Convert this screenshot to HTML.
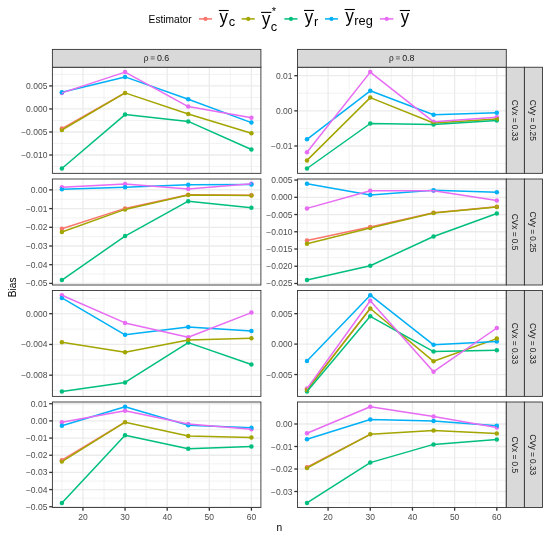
<!DOCTYPE html>
<html><head><meta charset="utf-8"><style>
html,body{margin:0;padding:0;background:#fff;}
svg{display:block;filter:blur(0.3px);}
text{font-family:"Liberation Sans",sans-serif;}
.ax{font-size:8.5px;fill:#4D4D4D;}
.st{font-size:8.3px;fill:#1A1A1A;}
.ti{font-size:10.2px;fill:#000;}
.lg{fill:#000;}
</style></head><body>
<svg width="550" height="536" viewBox="0 0 550 536">
<rect width="550" height="536" fill="#fff"/>
<g>
<line x1="52.4" y1="74.4" x2="260.9" y2="74.4" stroke="#EBEBEB" stroke-width="0.65"/>
<line x1="52.4" y1="97.43" x2="260.9" y2="97.43" stroke="#EBEBEB" stroke-width="0.65"/>
<line x1="52.4" y1="120.47" x2="260.9" y2="120.47" stroke="#EBEBEB" stroke-width="0.65"/>
<line x1="52.4" y1="143.5" x2="260.9" y2="143.5" stroke="#EBEBEB" stroke-width="0.65"/>
<line x1="52.4" y1="166.54" x2="260.9" y2="166.54" stroke="#EBEBEB" stroke-width="0.65"/>
<line x1="61.88" y1="67.25" x2="61.88" y2="173.35" stroke="#EBEBEB" stroke-width="0.65"/>
<line x1="104" y1="67.25" x2="104" y2="173.35" stroke="#EBEBEB" stroke-width="0.65"/>
<line x1="146.12" y1="67.25" x2="146.12" y2="173.35" stroke="#EBEBEB" stroke-width="0.65"/>
<line x1="188.24" y1="67.25" x2="188.24" y2="173.35" stroke="#EBEBEB" stroke-width="0.65"/>
<line x1="230.36" y1="67.25" x2="230.36" y2="173.35" stroke="#EBEBEB" stroke-width="0.65"/>
<line x1="52.4" y1="85.92" x2="260.9" y2="85.92" stroke="#EBEBEB" stroke-width="1.3"/>
<line x1="52.4" y1="108.95" x2="260.9" y2="108.95" stroke="#EBEBEB" stroke-width="1.3"/>
<line x1="52.4" y1="131.99" x2="260.9" y2="131.99" stroke="#EBEBEB" stroke-width="1.3"/>
<line x1="52.4" y1="155.02" x2="260.9" y2="155.02" stroke="#EBEBEB" stroke-width="1.3"/>
<line x1="82.94" y1="67.25" x2="82.94" y2="173.35" stroke="#EBEBEB" stroke-width="1.3"/>
<line x1="125.06" y1="67.25" x2="125.06" y2="173.35" stroke="#EBEBEB" stroke-width="1.3"/>
<line x1="167.18" y1="67.25" x2="167.18" y2="173.35" stroke="#EBEBEB" stroke-width="1.3"/>
<line x1="209.3" y1="67.25" x2="209.3" y2="173.35" stroke="#EBEBEB" stroke-width="1.3"/>
<line x1="251.42" y1="67.25" x2="251.42" y2="173.35" stroke="#EBEBEB" stroke-width="1.3"/>
<circle cx="61.88" cy="92.9" r="2.25" fill="#E76BF3"/>
<circle cx="125.06" cy="72.1" r="2.25" fill="#E76BF3"/>
<circle cx="188.24" cy="106.6" r="2.25" fill="#E76BF3"/>
<circle cx="251.42" cy="117.7" r="2.25" fill="#E76BF3"/>
<circle cx="61.88" cy="92.3" r="2.25" fill="#00B0F6"/>
<circle cx="125.06" cy="76.9" r="2.25" fill="#00B0F6"/>
<circle cx="188.24" cy="99.2" r="2.25" fill="#00B0F6"/>
<circle cx="251.42" cy="122.6" r="2.25" fill="#00B0F6"/>
<circle cx="61.88" cy="168.5" r="2.25" fill="#00BF7D"/>
<circle cx="125.06" cy="114.6" r="2.25" fill="#00BF7D"/>
<circle cx="188.24" cy="121.4" r="2.25" fill="#00BF7D"/>
<circle cx="251.42" cy="149.5" r="2.25" fill="#00BF7D"/>
<circle cx="61.88" cy="128.6" r="2.25" fill="#F8766D"/>
<circle cx="61.88" cy="130" r="2.25" fill="#A3A500"/>
<circle cx="125.06" cy="92.9" r="2.25" fill="#A3A500"/>
<circle cx="188.24" cy="114" r="2.25" fill="#A3A500"/>
<circle cx="251.42" cy="133.3" r="2.25" fill="#A3A500"/>
<line x1="61.88" y1="128.6" x2="125.06" y2="92.9" stroke="#F8766D" stroke-width="1.5" stroke-linecap="round"/>
<polyline points="61.88,130 125.06,92.9 188.24,114 251.42,133.3" fill="none" stroke="#A3A500" stroke-width="1.5" stroke-linejoin="round"/>
<polyline points="61.88,168.5 125.06,114.6 188.24,121.4 251.42,149.5" fill="none" stroke="#00BF7D" stroke-width="1.5" stroke-linejoin="round"/>
<polyline points="61.88,92.3 125.06,76.9 188.24,99.2 251.42,122.6" fill="none" stroke="#00B0F6" stroke-width="1.5" stroke-linejoin="round"/>
<polyline points="61.88,92.9 125.06,72.1 188.24,106.6 251.42,117.7" fill="none" stroke="#E76BF3" stroke-width="1.5" stroke-linejoin="round"/>
<rect x="52.4" y="67.25" width="208.5" height="106.1" fill="none" stroke="#333333" stroke-width="0.9"/>
<line x1="49.2" y1="85.92" x2="52.4" y2="85.92" stroke="#333333" stroke-width="1.3"/>
<text x="47.4" y="88.92" text-anchor="end" class="ax">0.005</text>
<line x1="49.2" y1="108.95" x2="52.4" y2="108.95" stroke="#333333" stroke-width="1.3"/>
<text x="47.4" y="111.95" text-anchor="end" class="ax">0.000</text>
<line x1="49.2" y1="131.99" x2="52.4" y2="131.99" stroke="#333333" stroke-width="1.3"/>
<text x="47.4" y="134.99" text-anchor="end" class="ax">−0.005</text>
<line x1="49.2" y1="155.02" x2="52.4" y2="155.02" stroke="#333333" stroke-width="1.3"/>
<text x="47.4" y="158.02" text-anchor="end" class="ax">−0.010</text>
</g>
<g>
<line x1="297.5" y1="93.27" x2="506.3" y2="93.27" stroke="#EBEBEB" stroke-width="0.65"/>
<line x1="297.5" y1="128.42" x2="506.3" y2="128.42" stroke="#EBEBEB" stroke-width="0.65"/>
<line x1="297.5" y1="163.57" x2="506.3" y2="163.57" stroke="#EBEBEB" stroke-width="0.65"/>
<line x1="306.99" y1="67.25" x2="306.99" y2="173.35" stroke="#EBEBEB" stroke-width="0.65"/>
<line x1="349.17" y1="67.25" x2="349.17" y2="173.35" stroke="#EBEBEB" stroke-width="0.65"/>
<line x1="391.35" y1="67.25" x2="391.35" y2="173.35" stroke="#EBEBEB" stroke-width="0.65"/>
<line x1="433.54" y1="67.25" x2="433.54" y2="173.35" stroke="#EBEBEB" stroke-width="0.65"/>
<line x1="475.72" y1="67.25" x2="475.72" y2="173.35" stroke="#EBEBEB" stroke-width="0.65"/>
<line x1="297.5" y1="75.7" x2="506.3" y2="75.7" stroke="#EBEBEB" stroke-width="1.3"/>
<line x1="297.5" y1="110.85" x2="506.3" y2="110.85" stroke="#EBEBEB" stroke-width="1.3"/>
<line x1="297.5" y1="146" x2="506.3" y2="146" stroke="#EBEBEB" stroke-width="1.3"/>
<line x1="328.08" y1="67.25" x2="328.08" y2="173.35" stroke="#EBEBEB" stroke-width="1.3"/>
<line x1="370.26" y1="67.25" x2="370.26" y2="173.35" stroke="#EBEBEB" stroke-width="1.3"/>
<line x1="412.45" y1="67.25" x2="412.45" y2="173.35" stroke="#EBEBEB" stroke-width="1.3"/>
<line x1="454.63" y1="67.25" x2="454.63" y2="173.35" stroke="#EBEBEB" stroke-width="1.3"/>
<line x1="496.81" y1="67.25" x2="496.81" y2="173.35" stroke="#EBEBEB" stroke-width="1.3"/>
<circle cx="306.99" cy="152.2" r="2.25" fill="#E76BF3"/>
<circle cx="370.26" cy="72.1" r="2.25" fill="#E76BF3"/>
<circle cx="433.54" cy="121.8" r="2.25" fill="#E76BF3"/>
<circle cx="496.81" cy="117.3" r="2.25" fill="#E76BF3"/>
<circle cx="306.99" cy="139.3" r="2.25" fill="#00B0F6"/>
<circle cx="370.26" cy="90.8" r="2.25" fill="#00B0F6"/>
<circle cx="433.54" cy="114.8" r="2.25" fill="#00B0F6"/>
<circle cx="496.81" cy="112.8" r="2.25" fill="#00B0F6"/>
<circle cx="306.99" cy="168.5" r="2.25" fill="#00BF7D"/>
<circle cx="370.26" cy="123.5" r="2.25" fill="#00BF7D"/>
<circle cx="433.54" cy="124.5" r="2.25" fill="#00BF7D"/>
<circle cx="496.81" cy="120.4" r="2.25" fill="#00BF7D"/>
<circle cx="306.99" cy="160.4" r="2.25" fill="#A3A500"/>
<circle cx="370.26" cy="97.6" r="2.25" fill="#A3A500"/>
<circle cx="433.54" cy="123" r="2.25" fill="#A3A500"/>
<circle cx="496.81" cy="119" r="2.25" fill="#A3A500"/>
<polyline points="306.99,160.4 370.26,97.6 433.54,123 496.81,119" fill="none" stroke="#A3A500" stroke-width="1.5" stroke-linejoin="round"/>
<polyline points="306.99,168.5 370.26,123.5 433.54,124.5 496.81,120.4" fill="none" stroke="#00BF7D" stroke-width="1.5" stroke-linejoin="round"/>
<polyline points="306.99,139.3 370.26,90.8 433.54,114.8 496.81,112.8" fill="none" stroke="#00B0F6" stroke-width="1.5" stroke-linejoin="round"/>
<polyline points="306.99,152.2 370.26,72.1 433.54,121.8 496.81,117.3" fill="none" stroke="#E76BF3" stroke-width="1.5" stroke-linejoin="round"/>
<rect x="297.5" y="67.25" width="208.8" height="106.1" fill="none" stroke="#333333" stroke-width="0.9"/>
<line x1="294.3" y1="75.7" x2="297.5" y2="75.7" stroke="#333333" stroke-width="1.3"/>
<text x="292.5" y="78.7" text-anchor="end" class="ax">0.01</text>
<line x1="294.3" y1="110.85" x2="297.5" y2="110.85" stroke="#333333" stroke-width="1.3"/>
<text x="292.5" y="113.85" text-anchor="end" class="ax">0.00</text>
<line x1="294.3" y1="146" x2="297.5" y2="146" stroke="#333333" stroke-width="1.3"/>
<text x="292.5" y="149" text-anchor="end" class="ax">−0.01</text>
</g>
<g>
<line x1="52.4" y1="199.25" x2="260.9" y2="199.25" stroke="#EBEBEB" stroke-width="0.65"/>
<line x1="52.4" y1="217.95" x2="260.9" y2="217.95" stroke="#EBEBEB" stroke-width="0.65"/>
<line x1="52.4" y1="236.65" x2="260.9" y2="236.65" stroke="#EBEBEB" stroke-width="0.65"/>
<line x1="52.4" y1="255.35" x2="260.9" y2="255.35" stroke="#EBEBEB" stroke-width="0.65"/>
<line x1="52.4" y1="274.05" x2="260.9" y2="274.05" stroke="#EBEBEB" stroke-width="0.65"/>
<line x1="61.88" y1="179" x2="61.88" y2="285" stroke="#EBEBEB" stroke-width="0.65"/>
<line x1="104" y1="179" x2="104" y2="285" stroke="#EBEBEB" stroke-width="0.65"/>
<line x1="146.12" y1="179" x2="146.12" y2="285" stroke="#EBEBEB" stroke-width="0.65"/>
<line x1="188.24" y1="179" x2="188.24" y2="285" stroke="#EBEBEB" stroke-width="0.65"/>
<line x1="230.36" y1="179" x2="230.36" y2="285" stroke="#EBEBEB" stroke-width="0.65"/>
<line x1="52.4" y1="189.9" x2="260.9" y2="189.9" stroke="#EBEBEB" stroke-width="1.3"/>
<line x1="52.4" y1="208.6" x2="260.9" y2="208.6" stroke="#EBEBEB" stroke-width="1.3"/>
<line x1="52.4" y1="227.3" x2="260.9" y2="227.3" stroke="#EBEBEB" stroke-width="1.3"/>
<line x1="52.4" y1="246" x2="260.9" y2="246" stroke="#EBEBEB" stroke-width="1.3"/>
<line x1="52.4" y1="264.7" x2="260.9" y2="264.7" stroke="#EBEBEB" stroke-width="1.3"/>
<line x1="52.4" y1="283.4" x2="260.9" y2="283.4" stroke="#EBEBEB" stroke-width="1.3"/>
<line x1="82.94" y1="179" x2="82.94" y2="285" stroke="#EBEBEB" stroke-width="1.3"/>
<line x1="125.06" y1="179" x2="125.06" y2="285" stroke="#EBEBEB" stroke-width="1.3"/>
<line x1="167.18" y1="179" x2="167.18" y2="285" stroke="#EBEBEB" stroke-width="1.3"/>
<line x1="209.3" y1="179" x2="209.3" y2="285" stroke="#EBEBEB" stroke-width="1.3"/>
<line x1="251.42" y1="179" x2="251.42" y2="285" stroke="#EBEBEB" stroke-width="1.3"/>
<circle cx="61.88" cy="187.3" r="2.25" fill="#E76BF3"/>
<circle cx="125.06" cy="184.1" r="2.25" fill="#E76BF3"/>
<circle cx="188.24" cy="188.9" r="2.25" fill="#E76BF3"/>
<circle cx="251.42" cy="183.8" r="2.25" fill="#E76BF3"/>
<circle cx="61.88" cy="189.3" r="2.25" fill="#00B0F6"/>
<circle cx="125.06" cy="187.3" r="2.25" fill="#00B0F6"/>
<circle cx="188.24" cy="184.8" r="2.25" fill="#00B0F6"/>
<circle cx="251.42" cy="184.4" r="2.25" fill="#00B0F6"/>
<circle cx="61.88" cy="280.1" r="2.25" fill="#00BF7D"/>
<circle cx="125.06" cy="236.1" r="2.25" fill="#00BF7D"/>
<circle cx="188.24" cy="201.2" r="2.25" fill="#00BF7D"/>
<circle cx="251.42" cy="207.8" r="2.25" fill="#00BF7D"/>
<circle cx="61.88" cy="228.7" r="2.25" fill="#F8766D"/>
<circle cx="125.06" cy="208.4" r="2.25" fill="#F8766D"/>
<circle cx="188.24" cy="194.8" r="2.25" fill="#F8766D"/>
<circle cx="251.42" cy="195.2" r="2.25" fill="#F8766D"/>
<circle cx="61.88" cy="232" r="2.25" fill="#A3A500"/>
<circle cx="125.06" cy="209.4" r="2.25" fill="#A3A500"/>
<circle cx="188.24" cy="195.1" r="2.25" fill="#A3A500"/>
<circle cx="251.42" cy="195.5" r="2.25" fill="#A3A500"/>
<line x1="61.88" y1="228.7" x2="125.06" y2="208.4" stroke="#F8766D" stroke-width="1.5" stroke-linecap="round"/>
<line x1="125.06" y1="208.4" x2="188.24" y2="194.8" stroke="#F8766D" stroke-width="1.5" stroke-linecap="round"/>
<line x1="188.24" y1="194.8" x2="251.42" y2="195.2" stroke="#F8766D" stroke-width="1.5" stroke-linecap="round"/>
<polyline points="61.88,232 125.06,209.4 188.24,195.1 251.42,195.5" fill="none" stroke="#A3A500" stroke-width="1.5" stroke-linejoin="round"/>
<polyline points="61.88,280.1 125.06,236.1 188.24,201.2 251.42,207.8" fill="none" stroke="#00BF7D" stroke-width="1.5" stroke-linejoin="round"/>
<polyline points="61.88,189.3 125.06,187.3 188.24,184.8 251.42,184.4" fill="none" stroke="#00B0F6" stroke-width="1.5" stroke-linejoin="round"/>
<polyline points="61.88,187.3 125.06,184.1 188.24,188.9 251.42,183.8" fill="none" stroke="#E76BF3" stroke-width="1.5" stroke-linejoin="round"/>
<rect x="52.4" y="179" width="208.5" height="106" fill="none" stroke="#333333" stroke-width="0.9"/>
<line x1="49.2" y1="189.9" x2="52.4" y2="189.9" stroke="#333333" stroke-width="1.3"/>
<text x="47.4" y="192.9" text-anchor="end" class="ax">0.00</text>
<line x1="49.2" y1="208.6" x2="52.4" y2="208.6" stroke="#333333" stroke-width="1.3"/>
<text x="47.4" y="211.6" text-anchor="end" class="ax">−0.01</text>
<line x1="49.2" y1="227.3" x2="52.4" y2="227.3" stroke="#333333" stroke-width="1.3"/>
<text x="47.4" y="230.3" text-anchor="end" class="ax">−0.02</text>
<line x1="49.2" y1="246" x2="52.4" y2="246" stroke="#333333" stroke-width="1.3"/>
<text x="47.4" y="249" text-anchor="end" class="ax">−0.03</text>
<line x1="49.2" y1="264.7" x2="52.4" y2="264.7" stroke="#333333" stroke-width="1.3"/>
<text x="47.4" y="267.7" text-anchor="end" class="ax">−0.04</text>
<line x1="49.2" y1="283.4" x2="52.4" y2="283.4" stroke="#333333" stroke-width="1.3"/>
<text x="47.4" y="286.4" text-anchor="end" class="ax">−0.05</text>
</g>
<g>
<line x1="297.5" y1="188.68" x2="506.3" y2="188.68" stroke="#EBEBEB" stroke-width="0.65"/>
<line x1="297.5" y1="205.92" x2="506.3" y2="205.92" stroke="#EBEBEB" stroke-width="0.65"/>
<line x1="297.5" y1="223.15" x2="506.3" y2="223.15" stroke="#EBEBEB" stroke-width="0.65"/>
<line x1="297.5" y1="240.39" x2="506.3" y2="240.39" stroke="#EBEBEB" stroke-width="0.65"/>
<line x1="297.5" y1="257.62" x2="506.3" y2="257.62" stroke="#EBEBEB" stroke-width="0.65"/>
<line x1="297.5" y1="274.86" x2="506.3" y2="274.86" stroke="#EBEBEB" stroke-width="0.65"/>
<line x1="306.99" y1="179" x2="306.99" y2="285" stroke="#EBEBEB" stroke-width="0.65"/>
<line x1="349.17" y1="179" x2="349.17" y2="285" stroke="#EBEBEB" stroke-width="0.65"/>
<line x1="391.35" y1="179" x2="391.35" y2="285" stroke="#EBEBEB" stroke-width="0.65"/>
<line x1="433.54" y1="179" x2="433.54" y2="285" stroke="#EBEBEB" stroke-width="0.65"/>
<line x1="475.72" y1="179" x2="475.72" y2="285" stroke="#EBEBEB" stroke-width="0.65"/>
<line x1="297.5" y1="180.06" x2="506.3" y2="180.06" stroke="#EBEBEB" stroke-width="1.3"/>
<line x1="297.5" y1="197.3" x2="506.3" y2="197.3" stroke="#EBEBEB" stroke-width="1.3"/>
<line x1="297.5" y1="214.54" x2="506.3" y2="214.54" stroke="#EBEBEB" stroke-width="1.3"/>
<line x1="297.5" y1="231.77" x2="506.3" y2="231.77" stroke="#EBEBEB" stroke-width="1.3"/>
<line x1="297.5" y1="249" x2="506.3" y2="249" stroke="#EBEBEB" stroke-width="1.3"/>
<line x1="297.5" y1="266.24" x2="506.3" y2="266.24" stroke="#EBEBEB" stroke-width="1.3"/>
<line x1="297.5" y1="283.48" x2="506.3" y2="283.48" stroke="#EBEBEB" stroke-width="1.3"/>
<line x1="328.08" y1="179" x2="328.08" y2="285" stroke="#EBEBEB" stroke-width="1.3"/>
<line x1="370.26" y1="179" x2="370.26" y2="285" stroke="#EBEBEB" stroke-width="1.3"/>
<line x1="412.45" y1="179" x2="412.45" y2="285" stroke="#EBEBEB" stroke-width="1.3"/>
<line x1="454.63" y1="179" x2="454.63" y2="285" stroke="#EBEBEB" stroke-width="1.3"/>
<line x1="496.81" y1="179" x2="496.81" y2="285" stroke="#EBEBEB" stroke-width="1.3"/>
<circle cx="306.99" cy="208.4" r="2.25" fill="#E76BF3"/>
<circle cx="370.26" cy="190.7" r="2.25" fill="#E76BF3"/>
<circle cx="433.54" cy="190.7" r="2.25" fill="#E76BF3"/>
<circle cx="496.81" cy="200.4" r="2.25" fill="#E76BF3"/>
<circle cx="306.99" cy="183.8" r="2.25" fill="#00B0F6"/>
<circle cx="370.26" cy="195.1" r="2.25" fill="#00B0F6"/>
<circle cx="433.54" cy="190.3" r="2.25" fill="#00B0F6"/>
<circle cx="496.81" cy="192.2" r="2.25" fill="#00B0F6"/>
<circle cx="306.99" cy="280.1" r="2.25" fill="#00BF7D"/>
<circle cx="370.26" cy="265.7" r="2.25" fill="#00BF7D"/>
<circle cx="433.54" cy="236.5" r="2.25" fill="#00BF7D"/>
<circle cx="496.81" cy="213.5" r="2.25" fill="#00BF7D"/>
<circle cx="306.99" cy="240.6" r="2.25" fill="#F8766D"/>
<circle cx="370.26" cy="226.9" r="2.25" fill="#F8766D"/>
<circle cx="433.54" cy="212.8" r="2.25" fill="#F8766D"/>
<circle cx="496.81" cy="206.7" r="2.25" fill="#F8766D"/>
<circle cx="306.99" cy="243.7" r="2.25" fill="#A3A500"/>
<circle cx="370.26" cy="227.9" r="2.25" fill="#A3A500"/>
<circle cx="433.54" cy="213.1" r="2.25" fill="#A3A500"/>
<circle cx="496.81" cy="207" r="2.25" fill="#A3A500"/>
<line x1="306.99" y1="240.6" x2="370.26" y2="226.9" stroke="#F8766D" stroke-width="1.5" stroke-linecap="round"/>
<line x1="370.26" y1="226.9" x2="433.54" y2="212.8" stroke="#F8766D" stroke-width="1.5" stroke-linecap="round"/>
<line x1="433.54" y1="212.8" x2="496.81" y2="206.7" stroke="#F8766D" stroke-width="1.5" stroke-linecap="round"/>
<polyline points="306.99,243.7 370.26,227.9 433.54,213.1 496.81,207" fill="none" stroke="#A3A500" stroke-width="1.5" stroke-linejoin="round"/>
<polyline points="306.99,280.1 370.26,265.7 433.54,236.5 496.81,213.5" fill="none" stroke="#00BF7D" stroke-width="1.5" stroke-linejoin="round"/>
<polyline points="306.99,183.8 370.26,195.1 433.54,190.3 496.81,192.2" fill="none" stroke="#00B0F6" stroke-width="1.5" stroke-linejoin="round"/>
<polyline points="306.99,208.4 370.26,190.7 433.54,190.7 496.81,200.4" fill="none" stroke="#E76BF3" stroke-width="1.5" stroke-linejoin="round"/>
<rect x="297.5" y="179" width="208.8" height="106" fill="none" stroke="#333333" stroke-width="0.9"/>
<line x1="294.3" y1="180.06" x2="297.5" y2="180.06" stroke="#333333" stroke-width="1.3"/>
<text x="292.5" y="183.06" text-anchor="end" class="ax">0.005</text>
<line x1="294.3" y1="197.3" x2="297.5" y2="197.3" stroke="#333333" stroke-width="1.3"/>
<text x="292.5" y="200.3" text-anchor="end" class="ax">0.000</text>
<line x1="294.3" y1="214.54" x2="297.5" y2="214.54" stroke="#333333" stroke-width="1.3"/>
<text x="292.5" y="217.54" text-anchor="end" class="ax">−0.005</text>
<line x1="294.3" y1="231.77" x2="297.5" y2="231.77" stroke="#333333" stroke-width="1.3"/>
<text x="292.5" y="234.77" text-anchor="end" class="ax">−0.010</text>
<line x1="294.3" y1="249" x2="297.5" y2="249" stroke="#333333" stroke-width="1.3"/>
<text x="292.5" y="252" text-anchor="end" class="ax">−0.015</text>
<line x1="294.3" y1="266.24" x2="297.5" y2="266.24" stroke="#333333" stroke-width="1.3"/>
<text x="292.5" y="269.24" text-anchor="end" class="ax">−0.020</text>
<line x1="294.3" y1="283.48" x2="297.5" y2="283.48" stroke="#333333" stroke-width="1.3"/>
<text x="292.5" y="286.48" text-anchor="end" class="ax">−0.025</text>
</g>
<g>
<line x1="52.4" y1="298.32" x2="260.9" y2="298.32" stroke="#EBEBEB" stroke-width="0.65"/>
<line x1="52.4" y1="329.07" x2="260.9" y2="329.07" stroke="#EBEBEB" stroke-width="0.65"/>
<line x1="52.4" y1="359.82" x2="260.9" y2="359.82" stroke="#EBEBEB" stroke-width="0.65"/>
<line x1="52.4" y1="390.57" x2="260.9" y2="390.57" stroke="#EBEBEB" stroke-width="0.65"/>
<line x1="61.88" y1="290.5" x2="61.88" y2="396.4" stroke="#EBEBEB" stroke-width="0.65"/>
<line x1="104" y1="290.5" x2="104" y2="396.4" stroke="#EBEBEB" stroke-width="0.65"/>
<line x1="146.12" y1="290.5" x2="146.12" y2="396.4" stroke="#EBEBEB" stroke-width="0.65"/>
<line x1="188.24" y1="290.5" x2="188.24" y2="396.4" stroke="#EBEBEB" stroke-width="0.65"/>
<line x1="230.36" y1="290.5" x2="230.36" y2="396.4" stroke="#EBEBEB" stroke-width="0.65"/>
<line x1="52.4" y1="313.7" x2="260.9" y2="313.7" stroke="#EBEBEB" stroke-width="1.3"/>
<line x1="52.4" y1="344.45" x2="260.9" y2="344.45" stroke="#EBEBEB" stroke-width="1.3"/>
<line x1="52.4" y1="375.2" x2="260.9" y2="375.2" stroke="#EBEBEB" stroke-width="1.3"/>
<line x1="82.94" y1="290.5" x2="82.94" y2="396.4" stroke="#EBEBEB" stroke-width="1.3"/>
<line x1="125.06" y1="290.5" x2="125.06" y2="396.4" stroke="#EBEBEB" stroke-width="1.3"/>
<line x1="167.18" y1="290.5" x2="167.18" y2="396.4" stroke="#EBEBEB" stroke-width="1.3"/>
<line x1="209.3" y1="290.5" x2="209.3" y2="396.4" stroke="#EBEBEB" stroke-width="1.3"/>
<line x1="251.42" y1="290.5" x2="251.42" y2="396.4" stroke="#EBEBEB" stroke-width="1.3"/>
<circle cx="61.88" cy="295.2" r="2.25" fill="#E76BF3"/>
<circle cx="125.06" cy="322.9" r="2.25" fill="#E76BF3"/>
<circle cx="188.24" cy="337.3" r="2.25" fill="#E76BF3"/>
<circle cx="251.42" cy="312.6" r="2.25" fill="#E76BF3"/>
<circle cx="61.88" cy="297.9" r="2.25" fill="#00B0F6"/>
<circle cx="125.06" cy="334.8" r="2.25" fill="#00B0F6"/>
<circle cx="188.24" cy="327" r="2.25" fill="#00B0F6"/>
<circle cx="251.42" cy="331.1" r="2.25" fill="#00B0F6"/>
<circle cx="61.88" cy="391.5" r="2.25" fill="#00BF7D"/>
<circle cx="125.06" cy="382.4" r="2.25" fill="#00BF7D"/>
<circle cx="188.24" cy="342.6" r="2.25" fill="#00BF7D"/>
<circle cx="251.42" cy="364.5" r="2.25" fill="#00BF7D"/>
<circle cx="61.88" cy="342.2" r="2.25" fill="#A3A500"/>
<circle cx="125.06" cy="352.2" r="2.25" fill="#A3A500"/>
<circle cx="188.24" cy="340.1" r="2.25" fill="#A3A500"/>
<circle cx="251.42" cy="338.3" r="2.25" fill="#A3A500"/>
<polyline points="61.88,342.2 125.06,352.2 188.24,340.1 251.42,338.3" fill="none" stroke="#A3A500" stroke-width="1.5" stroke-linejoin="round"/>
<polyline points="61.88,391.5 125.06,382.4 188.24,342.6 251.42,364.5" fill="none" stroke="#00BF7D" stroke-width="1.5" stroke-linejoin="round"/>
<polyline points="61.88,297.9 125.06,334.8 188.24,327 251.42,331.1" fill="none" stroke="#00B0F6" stroke-width="1.5" stroke-linejoin="round"/>
<polyline points="61.88,295.2 125.06,322.9 188.24,337.3 251.42,312.6" fill="none" stroke="#E76BF3" stroke-width="1.5" stroke-linejoin="round"/>
<rect x="52.4" y="290.5" width="208.5" height="105.9" fill="none" stroke="#333333" stroke-width="0.9"/>
<line x1="49.2" y1="313.7" x2="52.4" y2="313.7" stroke="#333333" stroke-width="1.3"/>
<text x="47.4" y="316.7" text-anchor="end" class="ax">0.000</text>
<line x1="49.2" y1="344.45" x2="52.4" y2="344.45" stroke="#333333" stroke-width="1.3"/>
<text x="47.4" y="347.45" text-anchor="end" class="ax">−0.004</text>
<line x1="49.2" y1="375.2" x2="52.4" y2="375.2" stroke="#333333" stroke-width="1.3"/>
<text x="47.4" y="378.2" text-anchor="end" class="ax">−0.008</text>
</g>
<g>
<line x1="297.5" y1="298.43" x2="506.3" y2="298.43" stroke="#EBEBEB" stroke-width="0.65"/>
<line x1="297.5" y1="328.88" x2="506.3" y2="328.88" stroke="#EBEBEB" stroke-width="0.65"/>
<line x1="297.5" y1="359.33" x2="506.3" y2="359.33" stroke="#EBEBEB" stroke-width="0.65"/>
<line x1="297.5" y1="389.78" x2="506.3" y2="389.78" stroke="#EBEBEB" stroke-width="0.65"/>
<line x1="306.99" y1="290.5" x2="306.99" y2="396.4" stroke="#EBEBEB" stroke-width="0.65"/>
<line x1="349.17" y1="290.5" x2="349.17" y2="396.4" stroke="#EBEBEB" stroke-width="0.65"/>
<line x1="391.35" y1="290.5" x2="391.35" y2="396.4" stroke="#EBEBEB" stroke-width="0.65"/>
<line x1="433.54" y1="290.5" x2="433.54" y2="396.4" stroke="#EBEBEB" stroke-width="0.65"/>
<line x1="475.72" y1="290.5" x2="475.72" y2="396.4" stroke="#EBEBEB" stroke-width="0.65"/>
<line x1="297.5" y1="313.65" x2="506.3" y2="313.65" stroke="#EBEBEB" stroke-width="1.3"/>
<line x1="297.5" y1="344.1" x2="506.3" y2="344.1" stroke="#EBEBEB" stroke-width="1.3"/>
<line x1="297.5" y1="374.55" x2="506.3" y2="374.55" stroke="#EBEBEB" stroke-width="1.3"/>
<line x1="328.08" y1="290.5" x2="328.08" y2="396.4" stroke="#EBEBEB" stroke-width="1.3"/>
<line x1="370.26" y1="290.5" x2="370.26" y2="396.4" stroke="#EBEBEB" stroke-width="1.3"/>
<line x1="412.45" y1="290.5" x2="412.45" y2="396.4" stroke="#EBEBEB" stroke-width="1.3"/>
<line x1="454.63" y1="290.5" x2="454.63" y2="396.4" stroke="#EBEBEB" stroke-width="1.3"/>
<line x1="496.81" y1="290.5" x2="496.81" y2="396.4" stroke="#EBEBEB" stroke-width="1.3"/>
<circle cx="306.99" cy="388.6" r="2.25" fill="#E76BF3"/>
<circle cx="370.26" cy="300.7" r="2.25" fill="#E76BF3"/>
<circle cx="433.54" cy="371.7" r="2.25" fill="#E76BF3"/>
<circle cx="496.81" cy="328" r="2.25" fill="#E76BF3"/>
<circle cx="306.99" cy="360.9" r="2.25" fill="#00B0F6"/>
<circle cx="370.26" cy="295.2" r="2.25" fill="#00B0F6"/>
<circle cx="433.54" cy="344.8" r="2.25" fill="#00B0F6"/>
<circle cx="496.81" cy="341.5" r="2.25" fill="#00B0F6"/>
<circle cx="306.99" cy="391.5" r="2.25" fill="#00BF7D"/>
<circle cx="370.26" cy="316.3" r="2.25" fill="#00BF7D"/>
<circle cx="433.54" cy="351.6" r="2.25" fill="#00BF7D"/>
<circle cx="496.81" cy="350.2" r="2.25" fill="#00BF7D"/>
<circle cx="306.99" cy="389.6" r="2.25" fill="#F8766D"/>
<circle cx="306.99" cy="390" r="2.25" fill="#A3A500"/>
<circle cx="370.26" cy="308.5" r="2.25" fill="#A3A500"/>
<circle cx="433.54" cy="361.3" r="2.25" fill="#A3A500"/>
<circle cx="496.81" cy="338.6" r="2.25" fill="#A3A500"/>
<line x1="306.99" y1="389.6" x2="370.26" y2="308.5" stroke="#F8766D" stroke-width="1.5" stroke-linecap="round"/>
<polyline points="306.99,390 370.26,308.5 433.54,361.3 496.81,338.6" fill="none" stroke="#A3A500" stroke-width="1.5" stroke-linejoin="round"/>
<polyline points="306.99,391.5 370.26,316.3 433.54,351.6 496.81,350.2" fill="none" stroke="#00BF7D" stroke-width="1.5" stroke-linejoin="round"/>
<polyline points="306.99,360.9 370.26,295.2 433.54,344.8 496.81,341.5" fill="none" stroke="#00B0F6" stroke-width="1.5" stroke-linejoin="round"/>
<polyline points="306.99,388.6 370.26,300.7 433.54,371.7 496.81,328" fill="none" stroke="#E76BF3" stroke-width="1.5" stroke-linejoin="round"/>
<rect x="297.5" y="290.5" width="208.8" height="105.9" fill="none" stroke="#333333" stroke-width="0.9"/>
<line x1="294.3" y1="313.65" x2="297.5" y2="313.65" stroke="#333333" stroke-width="1.3"/>
<text x="292.5" y="316.65" text-anchor="end" class="ax">0.005</text>
<line x1="294.3" y1="344.1" x2="297.5" y2="344.1" stroke="#333333" stroke-width="1.3"/>
<text x="292.5" y="347.1" text-anchor="end" class="ax">0.000</text>
<line x1="294.3" y1="374.55" x2="297.5" y2="374.55" stroke="#333333" stroke-width="1.3"/>
<text x="292.5" y="377.55" text-anchor="end" class="ax">−0.005</text>
</g>
<g>
<line x1="52.4" y1="412.31" x2="260.9" y2="412.31" stroke="#EBEBEB" stroke-width="0.65"/>
<line x1="52.4" y1="429.48" x2="260.9" y2="429.48" stroke="#EBEBEB" stroke-width="0.65"/>
<line x1="52.4" y1="446.65" x2="260.9" y2="446.65" stroke="#EBEBEB" stroke-width="0.65"/>
<line x1="52.4" y1="463.82" x2="260.9" y2="463.82" stroke="#EBEBEB" stroke-width="0.65"/>
<line x1="52.4" y1="481" x2="260.9" y2="481" stroke="#EBEBEB" stroke-width="0.65"/>
<line x1="52.4" y1="498.16" x2="260.9" y2="498.16" stroke="#EBEBEB" stroke-width="0.65"/>
<line x1="61.88" y1="402" x2="61.88" y2="507.5" stroke="#EBEBEB" stroke-width="0.65"/>
<line x1="104" y1="402" x2="104" y2="507.5" stroke="#EBEBEB" stroke-width="0.65"/>
<line x1="146.12" y1="402" x2="146.12" y2="507.5" stroke="#EBEBEB" stroke-width="0.65"/>
<line x1="188.24" y1="402" x2="188.24" y2="507.5" stroke="#EBEBEB" stroke-width="0.65"/>
<line x1="230.36" y1="402" x2="230.36" y2="507.5" stroke="#EBEBEB" stroke-width="0.65"/>
<line x1="52.4" y1="403.73" x2="260.9" y2="403.73" stroke="#EBEBEB" stroke-width="1.3"/>
<line x1="52.4" y1="420.9" x2="260.9" y2="420.9" stroke="#EBEBEB" stroke-width="1.3"/>
<line x1="52.4" y1="438.07" x2="260.9" y2="438.07" stroke="#EBEBEB" stroke-width="1.3"/>
<line x1="52.4" y1="455.24" x2="260.9" y2="455.24" stroke="#EBEBEB" stroke-width="1.3"/>
<line x1="52.4" y1="472.41" x2="260.9" y2="472.41" stroke="#EBEBEB" stroke-width="1.3"/>
<line x1="52.4" y1="489.58" x2="260.9" y2="489.58" stroke="#EBEBEB" stroke-width="1.3"/>
<line x1="52.4" y1="506.75" x2="260.9" y2="506.75" stroke="#EBEBEB" stroke-width="1.3"/>
<line x1="82.94" y1="402" x2="82.94" y2="507.5" stroke="#EBEBEB" stroke-width="1.3"/>
<line x1="125.06" y1="402" x2="125.06" y2="507.5" stroke="#EBEBEB" stroke-width="1.3"/>
<line x1="167.18" y1="402" x2="167.18" y2="507.5" stroke="#EBEBEB" stroke-width="1.3"/>
<line x1="209.3" y1="402" x2="209.3" y2="507.5" stroke="#EBEBEB" stroke-width="1.3"/>
<line x1="251.42" y1="402" x2="251.42" y2="507.5" stroke="#EBEBEB" stroke-width="1.3"/>
<circle cx="61.88" cy="422.2" r="2.25" fill="#E76BF3"/>
<circle cx="125.06" cy="410.7" r="2.25" fill="#E76BF3"/>
<circle cx="188.24" cy="424" r="2.25" fill="#E76BF3"/>
<circle cx="251.42" cy="429.2" r="2.25" fill="#E76BF3"/>
<circle cx="61.88" cy="425.7" r="2.25" fill="#00B0F6"/>
<circle cx="125.06" cy="406.7" r="2.25" fill="#00B0F6"/>
<circle cx="188.24" cy="425.3" r="2.25" fill="#00B0F6"/>
<circle cx="251.42" cy="427.7" r="2.25" fill="#00B0F6"/>
<circle cx="61.88" cy="502.9" r="2.25" fill="#00BF7D"/>
<circle cx="125.06" cy="435.3" r="2.25" fill="#00BF7D"/>
<circle cx="188.24" cy="448.7" r="2.25" fill="#00BF7D"/>
<circle cx="251.42" cy="446.6" r="2.25" fill="#00BF7D"/>
<circle cx="61.88" cy="460.2" r="2.25" fill="#F8766D"/>
<circle cx="61.88" cy="461.6" r="2.25" fill="#A3A500"/>
<circle cx="125.06" cy="422.2" r="2.25" fill="#A3A500"/>
<circle cx="188.24" cy="436.1" r="2.25" fill="#A3A500"/>
<circle cx="251.42" cy="437.6" r="2.25" fill="#A3A500"/>
<line x1="61.88" y1="460.2" x2="125.06" y2="422.2" stroke="#F8766D" stroke-width="1.5" stroke-linecap="round"/>
<polyline points="61.88,461.6 125.06,422.2 188.24,436.1 251.42,437.6" fill="none" stroke="#A3A500" stroke-width="1.5" stroke-linejoin="round"/>
<polyline points="61.88,502.9 125.06,435.3 188.24,448.7 251.42,446.6" fill="none" stroke="#00BF7D" stroke-width="1.5" stroke-linejoin="round"/>
<polyline points="61.88,425.7 125.06,406.7 188.24,425.3 251.42,427.7" fill="none" stroke="#00B0F6" stroke-width="1.5" stroke-linejoin="round"/>
<polyline points="61.88,422.2 125.06,410.7 188.24,424 251.42,429.2" fill="none" stroke="#E76BF3" stroke-width="1.5" stroke-linejoin="round"/>
<rect x="52.4" y="402" width="208.5" height="105.5" fill="none" stroke="#333333" stroke-width="0.9"/>
<line x1="49.2" y1="403.73" x2="52.4" y2="403.73" stroke="#333333" stroke-width="1.3"/>
<text x="47.4" y="406.73" text-anchor="end" class="ax">0.01</text>
<line x1="49.2" y1="420.9" x2="52.4" y2="420.9" stroke="#333333" stroke-width="1.3"/>
<text x="47.4" y="423.9" text-anchor="end" class="ax">0.00</text>
<line x1="49.2" y1="438.07" x2="52.4" y2="438.07" stroke="#333333" stroke-width="1.3"/>
<text x="47.4" y="441.07" text-anchor="end" class="ax">−0.01</text>
<line x1="49.2" y1="455.24" x2="52.4" y2="455.24" stroke="#333333" stroke-width="1.3"/>
<text x="47.4" y="458.24" text-anchor="end" class="ax">−0.02</text>
<line x1="49.2" y1="472.41" x2="52.4" y2="472.41" stroke="#333333" stroke-width="1.3"/>
<text x="47.4" y="475.41" text-anchor="end" class="ax">−0.03</text>
<line x1="49.2" y1="489.58" x2="52.4" y2="489.58" stroke="#333333" stroke-width="1.3"/>
<text x="47.4" y="492.58" text-anchor="end" class="ax">−0.04</text>
<line x1="49.2" y1="506.75" x2="52.4" y2="506.75" stroke="#333333" stroke-width="1.3"/>
<text x="47.4" y="509.75" text-anchor="end" class="ax">−0.05</text>
<line x1="82.94" y1="507.5" x2="82.94" y2="510.7" stroke="#333333" stroke-width="1.3"/>
<text x="82.94" y="519.9" text-anchor="middle" class="ax">20</text>
<line x1="125.06" y1="507.5" x2="125.06" y2="510.7" stroke="#333333" stroke-width="1.3"/>
<text x="125.06" y="519.9" text-anchor="middle" class="ax">30</text>
<line x1="167.18" y1="507.5" x2="167.18" y2="510.7" stroke="#333333" stroke-width="1.3"/>
<text x="167.18" y="519.9" text-anchor="middle" class="ax">40</text>
<line x1="209.3" y1="507.5" x2="209.3" y2="510.7" stroke="#333333" stroke-width="1.3"/>
<text x="209.3" y="519.9" text-anchor="middle" class="ax">50</text>
<line x1="251.42" y1="507.5" x2="251.42" y2="510.7" stroke="#333333" stroke-width="1.3"/>
<text x="251.42" y="519.9" text-anchor="middle" class="ax">60</text>
</g>
<g>
<line x1="297.5" y1="412.75" x2="506.3" y2="412.75" stroke="#EBEBEB" stroke-width="0.65"/>
<line x1="297.5" y1="435.25" x2="506.3" y2="435.25" stroke="#EBEBEB" stroke-width="0.65"/>
<line x1="297.5" y1="457.75" x2="506.3" y2="457.75" stroke="#EBEBEB" stroke-width="0.65"/>
<line x1="297.5" y1="480.25" x2="506.3" y2="480.25" stroke="#EBEBEB" stroke-width="0.65"/>
<line x1="297.5" y1="502.75" x2="506.3" y2="502.75" stroke="#EBEBEB" stroke-width="0.65"/>
<line x1="306.99" y1="402" x2="306.99" y2="507.5" stroke="#EBEBEB" stroke-width="0.65"/>
<line x1="349.17" y1="402" x2="349.17" y2="507.5" stroke="#EBEBEB" stroke-width="0.65"/>
<line x1="391.35" y1="402" x2="391.35" y2="507.5" stroke="#EBEBEB" stroke-width="0.65"/>
<line x1="433.54" y1="402" x2="433.54" y2="507.5" stroke="#EBEBEB" stroke-width="0.65"/>
<line x1="475.72" y1="402" x2="475.72" y2="507.5" stroke="#EBEBEB" stroke-width="0.65"/>
<line x1="297.5" y1="424" x2="506.3" y2="424" stroke="#EBEBEB" stroke-width="1.3"/>
<line x1="297.5" y1="446.5" x2="506.3" y2="446.5" stroke="#EBEBEB" stroke-width="1.3"/>
<line x1="297.5" y1="469" x2="506.3" y2="469" stroke="#EBEBEB" stroke-width="1.3"/>
<line x1="297.5" y1="491.5" x2="506.3" y2="491.5" stroke="#EBEBEB" stroke-width="1.3"/>
<line x1="328.08" y1="402" x2="328.08" y2="507.5" stroke="#EBEBEB" stroke-width="1.3"/>
<line x1="370.26" y1="402" x2="370.26" y2="507.5" stroke="#EBEBEB" stroke-width="1.3"/>
<line x1="412.45" y1="402" x2="412.45" y2="507.5" stroke="#EBEBEB" stroke-width="1.3"/>
<line x1="454.63" y1="402" x2="454.63" y2="507.5" stroke="#EBEBEB" stroke-width="1.3"/>
<line x1="496.81" y1="402" x2="496.81" y2="507.5" stroke="#EBEBEB" stroke-width="1.3"/>
<circle cx="306.99" cy="433.3" r="2.25" fill="#E76BF3"/>
<circle cx="370.26" cy="406.7" r="2.25" fill="#E76BF3"/>
<circle cx="433.54" cy="416.6" r="2.25" fill="#E76BF3"/>
<circle cx="496.81" cy="427.5" r="2.25" fill="#E76BF3"/>
<circle cx="306.99" cy="439.2" r="2.25" fill="#00B0F6"/>
<circle cx="370.26" cy="419.5" r="2.25" fill="#00B0F6"/>
<circle cx="433.54" cy="421" r="2.25" fill="#00B0F6"/>
<circle cx="496.81" cy="425.7" r="2.25" fill="#00B0F6"/>
<circle cx="306.99" cy="502.9" r="2.25" fill="#00BF7D"/>
<circle cx="370.26" cy="462.6" r="2.25" fill="#00BF7D"/>
<circle cx="433.54" cy="444.4" r="2.25" fill="#00BF7D"/>
<circle cx="496.81" cy="439.6" r="2.25" fill="#00BF7D"/>
<circle cx="306.99" cy="467.2" r="2.25" fill="#F8766D"/>
<circle cx="306.99" cy="468" r="2.25" fill="#A3A500"/>
<circle cx="370.26" cy="434.3" r="2.25" fill="#A3A500"/>
<circle cx="433.54" cy="430.6" r="2.25" fill="#A3A500"/>
<circle cx="496.81" cy="433.5" r="2.25" fill="#A3A500"/>
<line x1="306.99" y1="467.2" x2="370.26" y2="434.3" stroke="#F8766D" stroke-width="1.5" stroke-linecap="round"/>
<polyline points="306.99,468 370.26,434.3 433.54,430.6 496.81,433.5" fill="none" stroke="#A3A500" stroke-width="1.5" stroke-linejoin="round"/>
<polyline points="306.99,502.9 370.26,462.6 433.54,444.4 496.81,439.6" fill="none" stroke="#00BF7D" stroke-width="1.5" stroke-linejoin="round"/>
<polyline points="306.99,439.2 370.26,419.5 433.54,421 496.81,425.7" fill="none" stroke="#00B0F6" stroke-width="1.5" stroke-linejoin="round"/>
<polyline points="306.99,433.3 370.26,406.7 433.54,416.6 496.81,427.5" fill="none" stroke="#E76BF3" stroke-width="1.5" stroke-linejoin="round"/>
<rect x="297.5" y="402" width="208.8" height="105.5" fill="none" stroke="#333333" stroke-width="0.9"/>
<line x1="294.3" y1="424" x2="297.5" y2="424" stroke="#333333" stroke-width="1.3"/>
<text x="292.5" y="427" text-anchor="end" class="ax">0.00</text>
<line x1="294.3" y1="446.5" x2="297.5" y2="446.5" stroke="#333333" stroke-width="1.3"/>
<text x="292.5" y="449.5" text-anchor="end" class="ax">−0.01</text>
<line x1="294.3" y1="469" x2="297.5" y2="469" stroke="#333333" stroke-width="1.3"/>
<text x="292.5" y="472" text-anchor="end" class="ax">−0.02</text>
<line x1="294.3" y1="491.5" x2="297.5" y2="491.5" stroke="#333333" stroke-width="1.3"/>
<text x="292.5" y="494.5" text-anchor="end" class="ax">−0.03</text>
<line x1="328.08" y1="507.5" x2="328.08" y2="510.7" stroke="#333333" stroke-width="1.3"/>
<text x="328.08" y="519.9" text-anchor="middle" class="ax">20</text>
<line x1="370.26" y1="507.5" x2="370.26" y2="510.7" stroke="#333333" stroke-width="1.3"/>
<text x="370.26" y="519.9" text-anchor="middle" class="ax">30</text>
<line x1="412.45" y1="507.5" x2="412.45" y2="510.7" stroke="#333333" stroke-width="1.3"/>
<text x="412.45" y="519.9" text-anchor="middle" class="ax">40</text>
<line x1="454.63" y1="507.5" x2="454.63" y2="510.7" stroke="#333333" stroke-width="1.3"/>
<text x="454.63" y="519.9" text-anchor="middle" class="ax">50</text>
<line x1="496.81" y1="507.5" x2="496.81" y2="510.7" stroke="#333333" stroke-width="1.3"/>
<text x="496.81" y="519.9" text-anchor="middle" class="ax">60</text>
</g>
<rect x="52.4" y="49.4" width="208.5" height="17.85" fill="#D9D9D9" stroke="#333333" stroke-width="0.9"/>
<text x="143.65" y="60.7" class="st">ρ</text>
<line x1="150.65" y1="56.9" x2="154.65" y2="56.9" stroke="#333" stroke-width="0.9" opacity="0.75"/>
<line x1="150.65" y1="58.9" x2="154.65" y2="58.9" stroke="#333" stroke-width="0.9" opacity="0.75"/>
<text x="156.95" y="60.8" class="st" style="font-size:8.9px">0.6</text>
<rect x="297.5" y="49.4" width="208.8" height="17.85" fill="#D9D9D9" stroke="#333333" stroke-width="0.9"/>
<text x="388.9" y="60.7" class="st">ρ</text>
<line x1="395.9" y1="56.9" x2="399.9" y2="56.9" stroke="#333" stroke-width="0.9" opacity="0.75"/>
<line x1="395.9" y1="58.9" x2="399.9" y2="58.9" stroke="#333" stroke-width="0.9" opacity="0.75"/>
<text x="402.2" y="60.8" class="st" style="font-size:8.9px">0.8</text>
<rect x="506.3" y="67.25" width="18.1" height="106.1" fill="#D9D9D9" stroke="#333333" stroke-width="0.9"/>
<text transform="translate(512.35,120.3) rotate(90)" text-anchor="middle" class="st">CVx = 0.33</text>
<rect x="524.4" y="67.25" width="18.1" height="106.1" fill="#D9D9D9" stroke="#333333" stroke-width="0.9"/>
<text transform="translate(530.45,120.3) rotate(90)" text-anchor="middle" class="st">CVy = 0.25</text>
<rect x="506.3" y="179" width="18.1" height="106" fill="#D9D9D9" stroke="#333333" stroke-width="0.9"/>
<text transform="translate(512.35,232) rotate(90)" text-anchor="middle" class="st">CVx = 0.5</text>
<rect x="524.4" y="179" width="18.1" height="106" fill="#D9D9D9" stroke="#333333" stroke-width="0.9"/>
<text transform="translate(530.45,232) rotate(90)" text-anchor="middle" class="st">CVy = 0.25</text>
<rect x="506.3" y="290.5" width="18.1" height="105.9" fill="#D9D9D9" stroke="#333333" stroke-width="0.9"/>
<text transform="translate(512.35,343.45) rotate(90)" text-anchor="middle" class="st">CVx = 0.33</text>
<rect x="524.4" y="290.5" width="18.1" height="105.9" fill="#D9D9D9" stroke="#333333" stroke-width="0.9"/>
<text transform="translate(530.45,343.45) rotate(90)" text-anchor="middle" class="st">CVy = 0.33</text>
<rect x="506.3" y="402" width="18.1" height="105.5" fill="#D9D9D9" stroke="#333333" stroke-width="0.9"/>
<text transform="translate(512.35,454.75) rotate(90)" text-anchor="middle" class="st">CVx = 0.5</text>
<rect x="524.4" y="402" width="18.1" height="105.5" fill="#D9D9D9" stroke="#333333" stroke-width="0.9"/>
<text transform="translate(530.45,454.75) rotate(90)" text-anchor="middle" class="st">CVy = 0.33</text>
<text x="279.3" y="530.6" text-anchor="middle" class="ti">n</text>
<text transform="translate(16.2,287.3) rotate(-90)" text-anchor="middle" class="ti">Bias</text>
<text x="148.6" y="22.9" class="ti">Estimator</text>
<line x1="199" y1="18.9" x2="212" y2="18.9" stroke="#F8766D" stroke-width="1.5"/>
<circle cx="205.5" cy="18.9" r="2.1" fill="#F8766D"/>
<line x1="241.7" y1="18.9" x2="254.8" y2="18.9" stroke="#A3A500" stroke-width="1.5"/>
<circle cx="248.25" cy="18.9" r="2.1" fill="#A3A500"/>
<line x1="284.4" y1="18.9" x2="297.5" y2="18.9" stroke="#00BF7D" stroke-width="1.5"/>
<circle cx="290.95" cy="18.9" r="2.1" fill="#00BF7D"/>
<line x1="325" y1="18.9" x2="337.9" y2="18.9" stroke="#00B0F6" stroke-width="1.5"/>
<circle cx="331.45" cy="18.9" r="2.1" fill="#00B0F6"/>
<line x1="380" y1="18.9" x2="393.4" y2="18.9" stroke="#E76BF3" stroke-width="1.5"/>
<circle cx="386.7" cy="18.9" r="2.1" fill="#E76BF3"/>
<text transform="translate(223.75,23.12) scale(0.9,1)" text-anchor="middle" class="lg" font-size="18.6">y</text>
<line x1="218.8" y1="10.5" x2="228.7" y2="10.5" stroke="#000" stroke-width="1.1"/>
<text x="228.66" y="26.3" class="lg" font-size="12.8">c</text>
<text transform="translate(266.25,24.92) scale(0.9,1)" text-anchor="middle" class="lg" font-size="18.6">y</text>
<line x1="261.1" y1="12.4" x2="271.4" y2="12.4" stroke="#000" stroke-width="1.1"/>
<text x="270.86" y="30.6" class="lg" font-size="12.8">c</text>
<text x="271.8" y="14.8" class="lg" font-size="11">*</text>
<text transform="translate(309.05,23.02) scale(0.9,1)" text-anchor="middle" class="lg" font-size="18.6">y</text>
<line x1="304" y1="10.45" x2="314.1" y2="10.45" stroke="#000" stroke-width="1.1"/>
<text x="313.96" y="26.2" class="lg" font-size="12.8">r</text>
<text transform="translate(349.75,21.67) scale(0.9,1)" text-anchor="middle" class="lg" font-size="18.6">y</text>
<line x1="344.6" y1="9.5" x2="354.9" y2="9.5" stroke="#000" stroke-width="1.1"/>
<text x="354.26" y="24.9" class="lg" font-size="12.8">reg</text>
<text transform="translate(404.9,22.72) scale(0.9,1)" text-anchor="middle" class="lg" font-size="18.6">y</text>
<line x1="399.75" y1="10.5" x2="410" y2="10.5" stroke="#000" stroke-width="1.1"/>
</svg>
</body></html>
